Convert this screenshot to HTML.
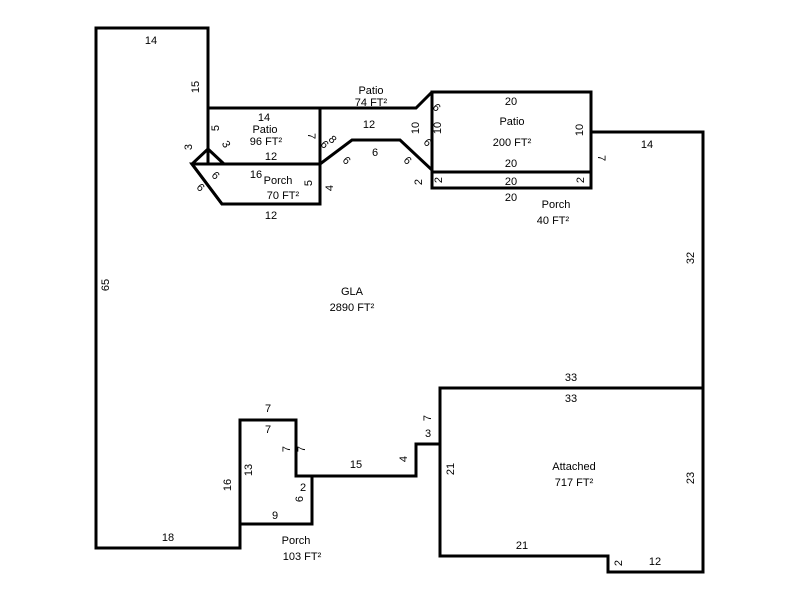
<!DOCTYPE html>
<html><head><style>body{margin:0;background:#fff}svg text{font-family:"Liberation Sans",Arial,sans-serif;font-size:11px;fill:#000}</style></head><body>
<svg width="800" height="600" viewBox="0 0 800 600" xmlns="http://www.w3.org/2000/svg">
<g fill="none" stroke="#000" stroke-width="3" stroke-linejoin="miter">
<polygon points="96,28 208,28 208,149 192,164 222,204 320,204 320,164 352,140 400,140 432,170 432,188 591,188 591,132 703,132 703,388 440,388 440,444 416,444 416,476 296,476 296,420 240,420 240,548 96,548"/>
<polygon points="240,420 296,420 296,476 312,476 312,524 240,524"/>
<polygon points="440,388 703,388 703,572 608,572 608,556 440,556"/>
<polygon points="208,108 320,108 320,164 208,164"/>
<line x1="208" y1="149" x2="224" y2="164"/>
<polygon points="192,164 320,164 320,204 222,204"/>
<polyline points="320,108 416,108 432,92"/>
<rect x="432" y="92" width="159" height="80"/>
<rect x="432" y="172" width="159" height="16"/>
</g>
<g text-anchor="middle">
<text x="151" y="44">14</text>
<text x="264" y="121">14</text>
<text x="265" y="133">Patio</text>
<text x="266" y="145">96 FT²</text>
<text x="271" y="160">12</text>
<text x="256" y="178">16</text>
<text x="278" y="184">Porch</text>
<text x="283" y="199">70 FT²</text>
<text x="271" y="219">12</text>
<text x="371" y="94">Patio</text>
<text x="371" y="106">74 FT²</text>
<text x="369" y="128">12</text>
<text x="375" y="156">6</text>
<text x="511" y="105">20</text>
<text x="512" y="125">Patio</text>
<text x="512" y="146">200 FT²</text>
<text x="511" y="167">20</text>
<text x="511" y="185">20</text>
<text x="511" y="201">20</text>
<text x="556" y="208">Porch</text>
<text x="553" y="224">40 FT²</text>
<text x="647" y="148">14</text>
<text x="352" y="295">GLA</text>
<text x="352" y="311">2890 FT²</text>
<text x="571" y="381">33</text>
<text x="571" y="402">33</text>
<text x="574" y="470">Attached</text>
<text x="574" y="486">717 FT²</text>
<text x="522" y="549">21</text>
<text x="655" y="565">12</text>
<text x="268" y="412">7</text>
<text x="268" y="433">7</text>
<text x="356" y="468">15</text>
<text x="303" y="491">2</text>
<text x="275" y="519">9</text>
<text x="296" y="544">Porch</text>
<text x="302" y="560">103 FT²</text>
<text x="168" y="541">18</text>
<text x="428" y="437">3</text>
</g>
<g text-anchor="middle">
<text transform="translate(199,87) rotate(-90)">15</text>
<text transform="translate(219,128) rotate(-90)">5</text>
<text transform="translate(192,147) rotate(-90)">3</text>
<text transform="translate(109,285) rotate(-90)">65</text>
<text transform="translate(231,485) rotate(-90)">16</text>
<text transform="translate(252,470) rotate(-90)">13</text>
<text transform="translate(290,449) rotate(-90)">7</text>
<text transform="translate(305,449) rotate(-90)">7</text>
<text transform="translate(303,499) rotate(-90)">6</text>
<text transform="translate(407,459) rotate(-90)">4</text>
<text transform="translate(431,418) rotate(-90)">7</text>
<text transform="translate(454,469) rotate(-90)">21</text>
<text transform="translate(694,478) rotate(-90)">23</text>
<text transform="translate(694,258) rotate(-90)">32</text>
<text transform="translate(622,563) rotate(-90)">2</text>
<text transform="translate(419,128) rotate(-90)">10</text>
<text transform="translate(441,128) rotate(-90)">10</text>
<text transform="translate(583,130) rotate(-90)">10</text>
<text transform="translate(422,182) rotate(-90)">2</text>
<text transform="translate(442,180) rotate(-90)">2</text>
<text transform="translate(584,180) rotate(-90)">2</text>
<text transform="translate(333,188) rotate(-90)">4</text>
<text transform="translate(312,183) rotate(-90)">5</text>
<text transform="translate(308,136) rotate(90)">7</text>
<text transform="translate(598,158) rotate(90)">7</text>
<text transform="translate(223,146) rotate(60)">3</text>
<text transform="translate(213,178) rotate(45)">6</text>
<text transform="translate(198,190) rotate(45)">6</text>
<text transform="translate(344,163) rotate(45)">6</text>
<text transform="translate(405,163) rotate(45)">6</text>
<text transform="translate(425,145) rotate(45)">6</text>
<text transform="translate(330,142) rotate(45)">8</text>
<text transform="translate(322,147) rotate(45)">6</text>
<text transform="translate(434,110) rotate(45)">6</text>
</g>
</svg>
</body></html>
